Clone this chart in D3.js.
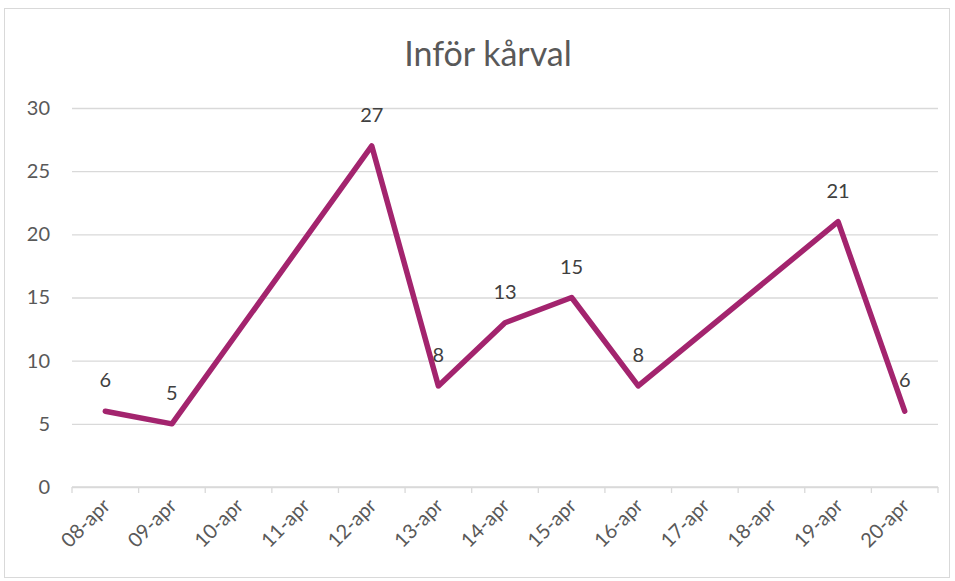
<!DOCTYPE html>
<html>
<head>
<meta charset="utf-8">
<script src="https://cdn.jsdelivr.net/npm/d3@7"></script>
<style>
  body { margin: 0; background: #fff; }
  text { font-family: Lato, "Noto Sans", sans-serif; }
</style>
</head>
<body>
<div id="chart"></div>
<script>
// Chart data
var days = ["08-apr", "09-apr", "10-apr", "11-apr", "12-apr", "13-apr", "14-apr",
            "15-apr", "16-apr", "17-apr", "18-apr", "19-apr", "20-apr"];
var counts = [6, 5, null, null, 27, 8, 13, 15, 8, null, null, 21, 6];
var yTicks = [0, 5, 10, 15, 20, 25, 30];

var svgWidth = 955;
var svgHeight = 581;

var margin = { top: 108, right: 17, bottom: 94, left: 72 };
var chartWidth = svgWidth - margin.left - margin.right;
var chartHeight = svgHeight - margin.top - margin.bottom;

var svg = d3.select("#chart")
  .append("svg")
  .attr("width", svgWidth)
  .attr("height", svgHeight);

// outer frame
svg.append("rect")
  .attr("x", 4.5).attr("y", 8.5)
  .attr("width", 945).attr("height", 569)
  .attr("fill", "#fff")
  .attr("stroke", "#d9d9d9");

svg.append("text")
  .attr("x", 488).attr("y", 66)
  .attr("text-anchor", "middle")
  .attr("font-size", 34)
  .attr("fill", "#595959")
  .text("Inför kårval");

var chartGroup = svg.append("g")
  .attr("transform", `translate(${margin.left}, ${margin.top})`);

var xScale = d3.scaleBand().domain(days).range([0, chartWidth]);
var yScale = d3.scaleLinear().domain([0, 30]).range([chartHeight, 0]);

// gridlines + y labels
var leftAxis = d3.axisLeft(yScale).tickValues(yTicks).tickSize(-chartWidth).tickPadding(22);
var yAxis = chartGroup.append("g").call(leftAxis);
yAxis.select(".domain").remove();
yAxis.selectAll(".tick line").attr("stroke", "#d9d9d9").attr("stroke-width", 1.3);
yAxis.selectAll(".tick text").attr("font-size", 20).attr("fill", "#595959");

// x axis with ticks at category boundaries
var xAxisG = chartGroup.append("g").attr("transform", `translate(0, ${chartHeight})`);
xAxisG.append("line")
  .attr("x1", 0).attr("x2", chartWidth)
  .attr("stroke", "#d9d9d9").attr("stroke-width", 1.3);
var bounds = days.map(d => xScale(d)).concat([chartWidth]);
xAxisG.selectAll(".bound")
  .data(bounds)
  .enter()
  .append("line")
  .attr("x1", d => d).attr("x2", d => d)
  .attr("y1", 0).attr("y2", 6)
  .attr("stroke", "#d9d9d9").attr("stroke-width", 1.3);
xAxisG.selectAll(".dayLabel")
  .data(days)
  .enter()
  .append("text")
  .attr("transform", d => `translate(${xScale(d) + xScale.bandwidth() / 2 + 6}, 20) rotate(-45)`)
  .attr("text-anchor", "end")
  .attr("font-size", 20)
  .attr("fill", "#595959")
  .text(d => d);

// line, skipping empty days
var points = days.map((d, i) => ({ day: d, value: counts[i] })).filter(p => p.value !== null);
var line = d3.line()
  .x(d => xScale(d.day) + xScale.bandwidth() / 2)
  .y(d => yScale(d.value));

chartGroup.append("path")
  .datum(points)
  .attr("d", line)
  .attr("fill", "none")
  .attr("stroke", "#a3246e")
  .attr("stroke-width", 5.5)
  .attr("stroke-linejoin", "round")
  .attr("stroke-linecap", "round");

chartGroup.selectAll(".valueLabel")
  .data(points)
  .enter()
  .append("text")
  .attr("x", d => xScale(d.day) + xScale.bandwidth() / 2)
  .attr("y", d => yScale(d.value) - 24)
  .attr("text-anchor", "middle")
  .attr("font-size", 20)
  .attr("fill", "#404040")
  .text(d => d.value);
</script>
</body>
</html>
